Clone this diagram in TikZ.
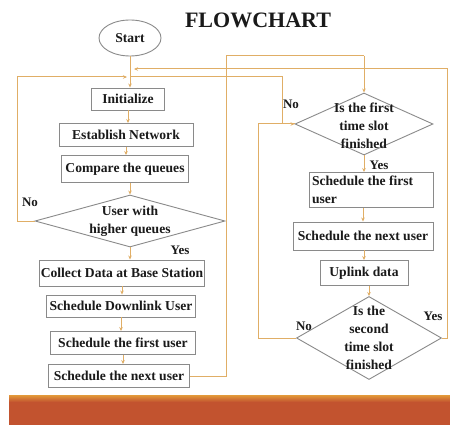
\documentclass[tikz,border=0pt]{standalone}
\usepackage{fontspec}
\setmainfont{Liberation Serif}
\usetikzlibrary{shapes.geometric,arrows.meta}
\definecolor{linecol}{HTML}{E0AE66}
\definecolor{boxcol}{HTML}{8A8A8A}
\definecolor{txtcol}{HTML}{1A1A1A}
\definecolor{barred}{HTML}{C2532F}
\definecolor{barorange}{HTML}{E39A3A}
\tikzset{
  base/.style={font=\fontsize{13.6}{18}\selectfont\bfseries, text=txtcol},
  procbox/.style={base, draw=boxcol, line width=0.9pt, fill=white, inner sep=1pt, align=center},
  decision/.style={draw=boxcol, line width=0.9pt, fill=white, diamond, inner sep=0pt},
  dtext/.style={base, align=center, inner sep=0pt},
  startbox/.style={base, draw=boxcol, line width=0.9pt, ellipse, inner sep=0pt},
  conn/.style={draw=linecol, line width=1pt},
  arr/.style={conn, -{Stealth[length=4pt,width=3.5pt]}},
  lbl/.style={base, font=\fontsize{13}{14}\selectfont\bfseries, inner sep=0pt},
}
\begin{document}
\begin{tikzpicture}[x=1pt,y=-1pt]
\useasboundingbox (0,0) rectangle (450,425);
\fill[white] (0,0) rectangle (450,425);
% bottom bar
\fill[barred] (9,401) rectangle (450,425);
\shade[top color=barorange, bottom color=barred] (9,395) rectangle (450,402);

\node[base, font=\fontsize{22}{24}\selectfont\bfseries] (title) at (258,20) {FLOWCHART};
\node[startbox, minimum width=62pt, minimum height=36pt] (start) at (130,38) {Start};

% left column
\node[procbox, minimum width=73pt, minimum height=22pt] (init) at (128,99) {Initialize};
\node[procbox, minimum width=134pt, minimum height=23pt] (est) at (126,135) {Establish Network};
\node[procbox, minimum width=127pt, minimum height=27pt] (cmp) at (125,169) {Compare the queues};
\node[decision, minimum width=190pt, minimum height=52pt] (d1) at (130,221) {};
\node[dtext] (d1t) at (130,221) {User with\\higher queues};
\node[procbox, minimum width=165pt, minimum height=26pt] (cds) at (122,273) {Collect Data at Base Station};
\node[procbox, minimum width=149pt, minimum height=22pt] (sdu) at (121,306) {Schedule Downlink User};
\node[procbox, minimum width=145pt, minimum height=23pt] (sfu) at (123,343) {Schedule the first user};
\node[procbox, minimum width=141pt, minimum height=23pt] (snu) at (119,376) {Schedule the next user};

% right column
\node[decision, minimum width=138pt, minimum height=62pt] (df) at (364,124) {};
\node[dtext] (dft) at (364,126) {Is the first\\time slot\\finished};
\node[procbox, minimum width=124pt, minimum height=35pt, text width=118pt, align=flush left, inner sep=3pt] (rsf) at (371,190) {Schedule the first\\user};
\node[procbox, minimum width=140pt, minimum height=28pt] (rsn) at (363,236) {Schedule the next user};
\node[procbox, minimum width=88pt, minimum height=25pt] (upl) at (364,273) {Uplink data};
\node[decision, minimum width=145pt, minimum height=83pt] (ds) at (369,338) {};
\node[dtext] (dst) at (369,338) {Is the\\second\\time slot\\finished};

% labels
\node[lbl] (no1) at (30,202) {No};
\node[lbl] (yes1) at (180,250) {Yes};
\node[lbl] (no2) at (291,104) {No};
\node[lbl] (yes2) at (379,165) {Yes};
\node[lbl] (no3) at (304,326) {No};
\node[lbl] (yes3) at (433,316) {Yes};

% junction coordinates
\coordinate (j1) at (130,77);
\coordinate (j2) at (130,69);
\coordinate (c1) at (17,221);
\coordinate (c2) at (17,77);
\coordinate (c3) at (226,376);
\coordinate (c4) at (226,56);
\coordinate (c5) at (364,56);
\coordinate (c6) at (282,124);
\coordinate (c7) at (282,77);
\coordinate (c8) at (258,338);
\coordinate (c9) at (258,124);
\coordinate (c10) at (447,338);
\coordinate (c11) at (447,69);

% main flow
\draw[arr] (start.south) -- (start.south |- init.north);
\draw[arr] (init.south) -- (init.south |- est.north);
\draw[arr] (est.south) -- (est.south |- cmp.north);
\draw[arr] (cmp.south -| d1.north) -- (d1.north);
\draw[arr] (d1.south) -- (d1.south |- cds.north);
\draw[arr] (cds.south) -- (cds.south |- sdu.north);
\draw[arr] (sdu.south) -- (sdu.south |- sfu.north);
\draw[arr] (sfu.south) -- (sfu.south |- snu.north);

% loops
\draw[arr] (d1.west) -- (c1) -- (c2) -- ([xshift=-3pt]j1);
\draw[conn] (snu.east) -- (c3) -- (c4) -- (c5);
\draw[arr] (c5) -- (df.north);
\draw[arr] (df.south) -- (df.south |- rsf.north);
\draw[arr] (rsf.south -| rsn.north) -- (rsn.north);
\draw[arr] (rsn.south -| upl.north) -- (upl.north);
\draw[arr] (upl.south -| ds.north) -- (ds.north);
\draw[conn] (df.west) -- (c6) -- (c7) -- (j1);
\draw[arr] (ds.west) -- (c8) -- (c9) -- (df.west);
\draw[arr] (ds.east) -- (c10) -- (c11) -- ([xshift=4pt]j2);
\end{tikzpicture}
\end{document}
